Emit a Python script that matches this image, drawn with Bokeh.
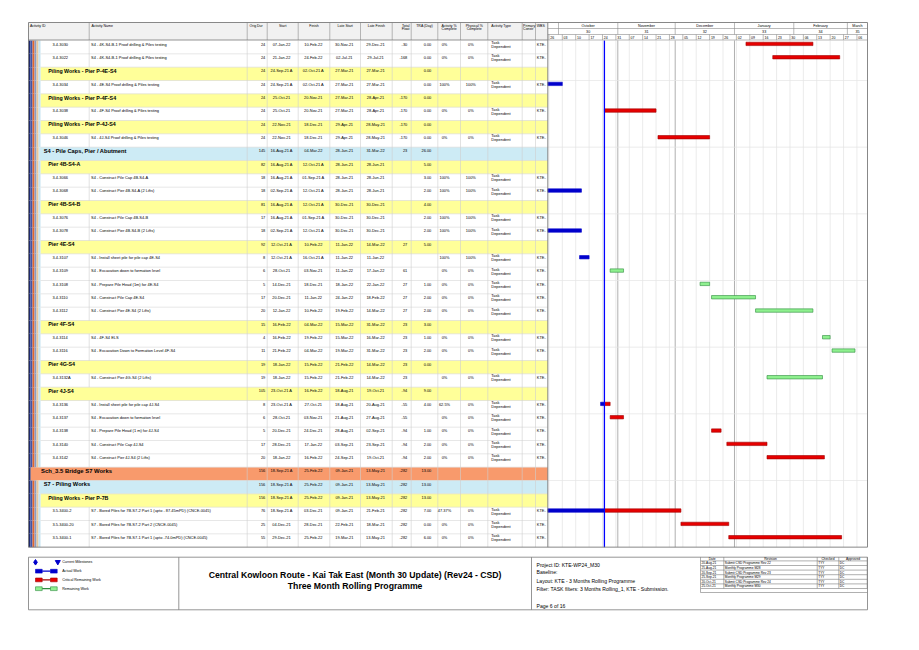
import datetime as dt
from bokeh.plotting import figure
from bokeh.models import Range1d
from bokeh.core.properties import value
from bokeh.embed import file_html
from bokeh.resources import INLINE

# ---------------- data ----------------
row_kind = ["task", "task", "wbs3", "task", "wbs3", "task", "wbs3", "task", "wbs2", "wbs3",
            "task", "task", "wbs3", "task", "task", "wbs3", "task", "task", "task", "task",
            "task", "wbs3", "task", "task", "wbs3", "task", "wbs3", "task", "task", "task",
            "task", "task", "wbs1", "wbs2", "wbs3", "task", "task", "task"]

act_id = ["3.4-3030", "3.4-3022", "", "3.4-3034", "", "3.4-3038", "", "3.4-3046", "", "",
          "3.4-3066", "3.4-3068", "", "3.4-3076", "3.4-3078", "", "3.4-3107", "3.4-3109", "3.4-3108", "3.4-3110",
          "3.4-3112", "", "3.4-3114", "3.4-3116", "", "3.4-3132A", "", "3.4-3136", "3.4-3137", "3.4-3138",
          "3.4-3140", "3.4-3142", "", "", "", "3.5-3400-2", "3.5-3400-20", "3.5-3400-1"]

act_name = [
    "S4 - 4K-S4-B-1 Proof drilling & Piles testing",
    "S4 - 4K-S4-B-1 Proof drilling & Piles testing",
    "Piling Works - Pier P-4E-S4",
    "S4 - 4E-S4  Proof drilling & Piles testing",
    "Piling Works - Pier P-4F-S4",
    "S4 - 4F-S4 Proof drilling & Piles testing",
    "Piling Works - Pier P-4J-S4",
    "S4 - 4J-S4 Proof drilling & Piles testing",
    "S4 - Pile Caps, Pier / Abutment",
    "Pier 4B-S4-A",
    "S4 - Construct Pile Cap 4B-S4-A",
    "S4 - Construct Pier 4B-S4-A (2 Lifts)",
    "Pier 4B-S4-B",
    "S4 - Construct Pile Cap 4B-S4-B",
    "S4 - Construct Pier 4B-S4-B (2 Lifts)",
    "Pier 4E-S4",
    "S4 - Install sheet pile for pile cap 4E-S4",
    "S4 - Excavation down to formation level",
    "S4 - Prepare Pile Head (1m) for 4E-S4",
    "S4 - Construct Pile Cap 4E-S4",
    "S4 - Construct Pier 4E-S4 (2 Lifts)",
    "Pier 4F-S4",
    "S4 - 4F-S4 ELS",
    "S4 - Excavation Down to Formation Level 4F-S4",
    "Pier 4G-S4",
    "S4 - Construct Pier 4G-S4 (2 Lifts)",
    "Pier 4J-S4",
    "S4 - Install sheet pile for pile cap 4J-S4",
    "S4 - Excavation down to formation level",
    "S4 - Prepare Pile Head (1 m) for 4J-S4",
    "S4 - Construct Pile Cap 4J-S4",
    "S4 - Construct Pier 4J-S4 (2 Lifts)",
    "Sch_3.5 Bridge S7 Works",
    "S7 - Piling Works",
    "Piling Works - Pier P-7B",
    "S7 - Bored Piles for 7B-S7-2 Part 1 (upto - 87.45mPD) (CNCE-0045)",
    "S7 - Bored Piles for 7B-S7-2 Part 2 (CNCE-0045)",
    "S7 - Bored Piles for 7B-S7-1 Part 1 (upto -74.0mPD) (CNCE-0045)",
]

orig_dur = ["24", "24", "24", "24", "24", "24", "24", "24", "145", "82",
            "18", "18", "81", "17", "18", "92", "8", "6", "5", "17",
            "20", "15", "4", "11", "19", "19", "105", "8", "6", "5",
            "17", "20", "156", "156", "156", "76", "25", "55"]

start = ["07-Jan-22", "21-Jan-22", "24-Sep-21 A", "24-Sep-21 A", "25-Oct-21", "25-Oct-21", "22-Nov-21", "22-Nov-21", "16-Aug-21 A", "16-Aug-21 A",
         "16-Aug-21 A", "02-Sep-21 A", "16-Aug-21 A", "16-Aug-21 A", "02-Sep-21 A", "12-Oct-21 A", "12-Oct-21 A", "28-Oct-21", "14-Dec-21", "20-Dec-21",
         "12-Jan-22", "16-Feb-22", "16-Feb-22", "21-Feb-22", "18-Jan-22", "18-Jan-22", "23-Oct-21 A", "23-Oct-21 A", "28-Oct-21", "20-Dec-21",
         "28-Dec-21", "18-Jan-22", "18-Sep-21 A", "18-Sep-21 A", "18-Sep-21 A", "18-Sep-21 A", "04-Dec-21", "29-Dec-21"]

finish = ["10-Feb-22", "24-Feb-22", "02-Oct-21 A", "02-Oct-21 A", "20-Nov-21", "20-Nov-21", "18-Dec-21", "18-Dec-21", "04-Mar-22", "12-Oct-21 A",
          "01-Sep-21 A", "12-Oct-21 A", "12-Oct-21 A", "01-Sep-21 A", "12-Oct-21 A", "10-Feb-22", "16-Oct-21 A", "03-Nov-21", "18-Dec-21", "11-Jan-22",
          "10-Feb-22", "04-Mar-22", "19-Feb-22", "04-Mar-22", "15-Feb-22", "15-Feb-22", "16-Feb-22", "27-Oct-21", "03-Nov-21", "24-Dec-21",
          "17-Jan-22", "16-Feb-22", "25-Feb-22", "25-Feb-22", "25-Feb-22", "03-Dec-21", "28-Dec-21", "25-Feb-22"]

late_start = ["30-Nov-21", "02-Jul-21", "27-Mar-21", "27-Mar-21", "27-Mar-21", "27-Mar-21", "29-Apr-21", "29-Apr-21", "28-Jun-21", "28-Jun-21",
              "28-Jun-21", "28-Jun-21", "30-Dec-21", "30-Dec-21", "30-Dec-21", "11-Jan-22", "11-Jan-22", "11-Jan-22", "18-Jan-22", "24-Jan-22",
              "19-Feb-22", "15-Mar-22", "15-Mar-22", "19-Mar-22", "21-Feb-22", "21-Feb-22", "18-Aug-21", "18-Aug-21", "21-Aug-21", "28-Aug-21",
              "03-Sep-21", "24-Sep-21", "09-Jan-21", "09-Jan-21", "09-Jan-21", "09-Jan-21", "22-Feb-21", "19-Mar-21"]

late_finish = ["29-Dec-21", "29-Jul-21", "27-Mar-21", "27-Mar-21", "28-Apr-21", "28-Apr-21", "28-May-21", "28-May-21", "31-Mar-22", "28-Jun-21",
               "28-Jun-21", "28-Jun-21", "30-Dec-21", "30-Dec-21", "30-Dec-21", "14-Mar-22", "11-Jan-22", "17-Jan-22", "22-Jan-22", "18-Feb-22",
               "14-Mar-22", "31-Mar-22", "16-Mar-22", "31-Mar-22", "14-Mar-22", "14-Mar-22", "19-Oct-21", "20-Aug-21", "27-Aug-21", "02-Sep-21",
               "23-Sep-21", "19-Oct-21", "13-May-21", "13-May-21", "13-May-21", "21-Feb-21", "18-Mar-21", "13-May-21"]

total_float = ["-30", "-168", "", "", "-170", "-170", "-170", "-170", "23", "",
               "", "", "", "", "", "27", "", "61", "27", "27",
               "27", "23", "23", "23", "23", "23", "-94", "-55", "-55", "-94",
               "-94", "-94", "-282", "-282", "-282", "-282", "-282", "-282"]

tra_day = ["0.00", "0.00", "0.00", "0.00", "0.00", "0.00", "0.00", "0.00", "26.00", "5.00",
           "3.00", "2.00", "4.00", "2.00", "2.00", "5.00", "", "", "1.00", "2.00",
           "2.00", "3.00", "1.00", "2.00", "0.00", "", "9.00", "4.00", "", "1.00",
           "2.00", "2.00", "13.00", "13.00", "13.00", "7.00", "0.00", "6.00"]

act_pct = ["0%", "0%", "", "100%", "", "0%", "", "0%", "", "",
           "100%", "100%", "", "100%", "100%", "", "100%", "0%", "0%", "0%",
           "0%", "", "0%", "0%", "", "0%", "", "62.5%", "0%", "0%",
           "0%", "0%", "", "", "", "47.37%", "0%", "0%"]

phys_pct = ["0%", "0%", "", "100%", "", "0%", "", "0%", "", "",
            "100%", "100%", "", "100%", "100%", "", "100%", "0%", "0%", "0%",
            "0%", "", "0%", "0%", "", "0%", "", "0%", "0%", "0%",
            "0%", "0%", "", "", "", "0%", "0%", "0%"]

data_date = "25-Oct-21"

month_labels = ["October", "November", "December", "January", "February", "March"]
month_numbers = ["30", "31", "32", "33", "34", "35"]
month_starts = ["01-Oct-21", "01-Nov-21", "01-Dec-21", "01-Jan-22", "01-Feb-22", "01-Mar-22", "01-Apr-22"]
major_lines = ["01-Nov-21", "01-Dec-21", "01-Jan-22"]
week_starts = ["26-Sep-21", "03-Oct-21", "10-Oct-21", "17-Oct-21", "24-Oct-21", "31-Oct-21", "07-Nov-21", "14-Nov-21",
               "21-Nov-21", "28-Nov-21", "05-Dec-21", "12-Dec-21", "19-Dec-21", "26-Dec-21", "02-Jan-22", "09-Jan-22",
               "16-Jan-22", "23-Jan-22", "30-Jan-22", "06-Feb-22", "13-Feb-22", "20-Feb-22", "27-Feb-22", "06-Mar-22"]
week_labels = ["26", "03", "10", "17", "24", "31", "07", "14", "21", "28", "05", "12",
               "19", "26", "02", "09", "16", "23", "30", "06", "13", "20", "27", "06"]

header_labels = [["Activity ID"], ["Activity Name"], ["Orig Dur"], ["Start"], ["Finish"], ["Late Start"],
                 ["Late Finish"], ["Total", "Float"], ["TRA (Day)"], ["Activity %", "Complete"],
                 ["Physical %", "Complete"], ["Activity Type"], ["Primary", "Constr"], ["WBS"]]

rev_dates = ["20-Aug-21", "25-Aug-21", "20-Sep-21", "25-Sep-21", "20-Oct-21", "25-Oct-21"]
rev_text = ["Submit CSD Programme Rev 22", "Monthly Programme M28", "Submit CSD Programme Rev 23",
            "Monthly Programme M29", "Submit CSD Programme Rev 24", "Monthly Programme M30"]
rev_checked = ["TYY", "TYY", "TYY", "TYY", "TYY", "TYY"]
rev_approved = ["DC", "DC", "DC", "DC", "DC", "DC"]
rev_headers = ["Date", "Revision", "Checked", "Approved"]

legend_labels = ["Current Milestones", "Actual Work", "Critical Remaining Work", "Remaining Work"]

title_lines = ["Central Kowloon Route - Kai Tak East (Month 30 Update) (Rev24 - CSD)",
               "Three Month Rolling Programme"]
info_lines = ["Project ID: KTE-WP24_M30", "Baseline:", "Layout: KTE - 3 Months Rolling Programme",
              "Filter: TASK filters: 3 Months Rolling_1, KTE - Submission.", "Page 6 of 16"]

# ---------------- layout constants ----------------
W, H = 903, 634
FONT = value("Liberation Sans")
ORIGIN = dt.datetime(2021, 11, 1)
ORIGIN_X = 617.3
PPD = 1.913
ROW_TOP = 40.0
ROW_H = 13.333
GL, GR = 547.3, 867.0
TL = 28.0
HDR_TOP = 22.0
NROWS = len(row_kind)
TBL_BOT = ROW_TOP + NROWS * ROW_H
col_edges = [28.0, 88.7, 246.7, 266.7, 297.7, 329.3, 360.0, 391.7, 410.7, 437.3, 460.0, 487.3, 521.7, 535.0, 547.3]

BLUE = "#0000CC"
RED = "#E60000"
GREEN = "#8FF08F"
GREEN_LINE = "#2E8B3E"
band_color = {"wbs1": "#F89A6C", "wbs2": "#CDEBF5", "wbs3": "#FFFF99"}
band_left = {"wbs1": 30.0, "wbs2": 38.0, "wbs3": 40.0}
stripe_colors = ["#1F2A6E", "#4055A8", "#E0652E", "#8A9AC0", "#E8C79C", "#C5E4F2"]
stripe_count = {"task": 6, "wbs3": 6, "wbs2": 5, "wbs1": 1}


def pdate(s):
    return dt.datetime.strptime(s.replace(" A", "").strip(), "%d-%b-%y")


def ms(d):
    return (d - dt.datetime(1970, 1, 1)).total_seconds() * 1000.0


def date_at(px):
    return ORIGIN + dt.timedelta(days=(px - ORIGIN_X) / PPD)


def row_at(px):
    return (px - ROW_TOP) / ROW_H


p = figure(width=W, height=H, x_range=Range1d(0, W), y_range=Range1d(H, 0),
           output_backend="svg", toolbar_location=None, min_border=0,
           x_axis_location=None, y_axis_location=None)
p.grid.visible = False
p.outline_line_color = None
p.background_fill_color = "white"
p.border_fill_color = "white"
p.extra_x_ranges = {"date": Range1d(start=ms(date_at(0)), end=ms(date_at(W)))}
p.extra_y_ranges = {"row": Range1d(start=row_at(H), end=row_at(0))}

VS = date_at(GL)
VE = date_at(GR)
DD = pdate(data_date)

# ---------------- table backgrounds ----------------
p.quad(left=[TL], right=[GL], top=[HDR_TOP], bottom=[39.5], fill_color="#F1F1F1", line_color=None)

bl, br, bt, bb, bc = [], [], [], [], []
for i, k in enumerate(row_kind):
    if k in band_color:
        bl.append(band_left[k]); br.append(GL); bt.append(i); bb.append(i + 1); bc.append(band_color[k])
p.quad(left=bl, right=br, top=bt, bottom=bb, fill_color=bc, line_color=None, y_range_name="row")

sl, sr, st, sb, sc = [], [], [], [], []
for i, k in enumerate(row_kind):
    for s in range(stripe_count[k]):
        sl.append(TL + 2 * s); sr.append(TL + 2 * s + 2); st.append(i); sb.append(i + 1); sc.append(stripe_colors[s])
p.quad(left=sl, right=sr, top=st, bottom=sb, fill_color=sc, line_color=None, y_range_name="row")

# row separators
hx0, hx1, hy = [], [], []
for i in range(1, NROWS):
    hx0.append(40.0); hx1.append(GL); hy.append(i)
p.segment(x0=hx0, x1=hx1, y0=hy, y1=hy, line_color="#D6D6D6", line_width=0.6, y_range_name="row")

# vertical column lines
vx, vy0, vy1 = [], [], []
for e in col_edges[2:-1]:
    vx.append(e); vy0.append(0); vy1.append(NROWS)
for i, k in enumerate(row_kind):
    if k == "task":
        vx.append(col_edges[1]); vy0.append(i); vy1.append(i + 1)
p.segment(x0=vx, x1=vx, y0=vy0, y1=vy1, line_color="#CFCFCF", line_width=0.6, y_range_name="row")

# header column lines
p.segment(x0=col_edges[1:-1], x1=col_edges[1:-1], y0=[HDR_TOP] * (len(col_edges) - 2),
          y1=[39.5] * (len(col_edges) - 2), line_color="#9A9A9A", line_width=0.7)

# ---------------- table text ----------------
def txt(xs, ys, ts, size, align="left", style="normal", yr="row", color="black", xr="default", xoff=0):
    kw = dict(x=xs, y=ys, text=ts, text_font=FONT, text_font_size=size, text_align=align,
              text_baseline="middle", text_font_style=style, text_color=color, x_offset=xoff)
    if yr != "default":
        kw["y_range_name"] = yr
    if xr != "default":
        kw["x_range_name"] = xr
    p.text(**kw)

off1 = 3.8 / ROW_H
offa = 1.9 / ROW_H
offb = 5.9 / ROW_H
CS = "3.95px"

cols = {
    "dur": (264.8, "right", orig_dur),
    "start": (281.0, "center", start),
    "finish": (312.8, "center", finish),
    "ls": (343.8, "center", late_start),
    "lf": (375.0, "center", late_finish),
    "tf": (406.8, "right", total_float),
    "tra": (430.8, "right", tra_day),
    "ap": (444.0, "center", act_pct),
    "pp": (470.3, "center", phys_pct),
}
for key, (cx, al, arr) in cols.items():
    xs, ys, ts = [], [], []
    for i, v in enumerate(arr):
        if v:
            xs.append(cx); ys.append(i + off1); ts.append(v)
    txt(xs, ys, ts, CS, align=al)

xs, ys, ts = [], [], []
for i, k in enumerate(row_kind):
    if k == "task":
        xs.append(52.0); ys.append(i + off1); ts.append(act_id[i])
        xs.append(90.5); ys.append(i + off1); ts.append(act_name[i])
        xs.append(536.3); ys.append(i + off1); ts.append("KTE-")
txt(xs, ys, ts, CS)

xs, ys, ts = [], [], []
for i, k in enumerate(row_kind):
    if k == "task":
        xs += [490.8, 490.8]; ys += [i + offa, i + offb]; ts += ["Task", "Dependent"]
txt(xs, ys, ts, CS)

group_style = {"wbs3": (47.7, "5.3px"), "wbs2": (43.3, "5.7px"), "wbs1": (40.5, "5.9px")}
for gk, (gx, gs) in group_style.items():
    xs, ys, ts = [], [], []
    for i, k in enumerate(row_kind):
        if k == gk:
            xs.append(gx); ys.append(i + off1); ts.append(act_name[i])
    txt(xs, ys, ts, gs, style="bold")

# header labels
hx = [29.5, 91.0, 249.0, 282.2, 313.5, 344.7, 375.8, 409.0, 424.0, 448.6, 473.7, 490.8, 522.6, 536.3]
ha = ["left", "left", "left", "center", "center", "center", "center", "right", "center", "center",
      "center", "left", "left", "left"]
for j, lines in enumerate(header_labels):
    for li, line in enumerate(lines):
        txt([hx[j]], [25.2 + 3.6 * li], [line], "3.5px", align=ha[j], yr="default")

# ---------------- gantt body ----------------
wk = [ms(pdate(w)) for w in week_starts if VS < pdate(w) < VE]
p.segment(x0=wk, x1=wk, y0=[0] * len(wk), y1=[NROWS] * len(wk), line_color="#E2E2E2", line_width=0.7,
          x_range_name="date", y_range_name="row")
mj = [ms(pdate(m)) for m in major_lines]
p.segment(x0=mj, x1=mj, y0=[0] * len(mj), y1=[NROWS] * len(mj), line_color="#9C9C9C", line_width=0.8,
          x_range_name="date", y_range_name="row")
hr = [r for r in range(3, NROWS, 5)]
p.segment(x0=[GL] * len(hr), x1=[GR] * len(hr), y0=hr, y1=hr, line_color="#E4E4E4", line_width=0.7,
          y_range_name="row")

segs = {"blue": ([], [], []), "red": ([], [], []), "green": ([], [], [])}
for i, k in enumerate(row_kind):
    if k != "task":
        continue
    s = pdate(start[i])
    f = pdate(finish[i]) + dt.timedelta(days=1)
    rem = "red" if (total_float[i] and float(total_float[i]) <= 0) else "green"
    parts = []
    if finish[i].endswith(" A"):
        parts.append(("blue", s, f))
    elif start[i].endswith(" A"):
        parts.append(("blue", s, DD))
        parts.append((rem, DD, f))
    else:
        parts.append((rem, s, f))
    for c, a, b in parts:
        a2, b2 = max(a, VS), min(b, VE)
        if b2 > a2:
            segs[c][0].append(ms(a2)); segs[c][1].append(ms(b2)); segs[c][2].append(i)

bar_c = 3.4 / ROW_H
bar_h = 1.7 / ROW_H
for c, fill, line in [("blue", BLUE, BLUE), ("red", RED, "#A00000"), ("green", GREEN, GREEN_LINE)]:
    L, R, Y = segs[c]
    p.quad(left=L, right=R, top=[y + bar_c - bar_h for y in Y], bottom=[y + bar_c + bar_h for y in Y],
           fill_color=fill, line_color=line, line_width=0.6, x_range_name="date", y_range_name="row")

p.segment(x0=[ms(DD)], x1=[ms(DD)], y0=[0], y1=[NROWS], line_color="#0000FF", line_width=1.3,
          x_range_name="date", y_range_name="row")

# ---------------- timescale header ----------------
p.segment(x0=[GL] * 3, x1=[GR] * 3, y0=[28, 34, 39.5], y1=[28, 34, 39.5], line_color="#8C8C8C", line_width=0.6)
ms_in = [ms(pdate(m)) for m in month_starts if VS < pdate(m) < VE]
p.segment(x0=ms_in, x1=ms_in, y0=[HDR_TOP] * len(ms_in), y1=[34] * len(ms_in), line_color="#8C8C8C",
          line_width=0.6, x_range_name="date")
p.segment(x0=wk, x1=wk, y0=[34] * len(wk), y1=[39.5] * len(wk), line_color="#8C8C8C",
          line_width=0.6, x_range_name="date")
mx, my, mt, nx, ny, nt = [], [], [], [], [], []
for j, lab in enumerate(month_labels):
    a = max(pdate(month_starts[j]), VS)
    b = min(pdate(month_starts[j + 1]), VE)
    mid = ms(a) + (ms(b) - ms(a)) / 2
    mx.append(mid); my.append(25.0); mt.append(lab)
    nx.append(mid); ny.append(31.0); nt.append(month_numbers[j])
txt(mx, my, mt, "3.7px", align="center", yr="default", xr="date")
txt(nx, ny, nt, "3.7px", align="center", yr="default", xr="date")
wx = [ms(max(pdate(w), VS)) for w in week_starts]
txt(wx, [36.9] * len(wx), week_labels, "3.5px", align="left", yr="default", xr="date", xoff=1.3)

# ---------------- borders ----------------
p.segment(x0=[TL, TL, TL, GR, GL], x1=[GR, GR, TL, GR, GL], y0=[HDR_TOP, TBL_BOT, HDR_TOP, HDR_TOP, HDR_TOP],
          y1=[HDR_TOP, TBL_BOT, TBL_BOT, TBL_BOT, TBL_BOT], line_color="#7A7A7A", line_width=0.9)
p.segment(x0=[TL], x1=[GL], y0=[39.5], y1=[39.5], line_color="#7A7A7A", line_width=0.8)

# ---------------- footer ----------------
FT, FB = 556.7, 609.3
p.segment(x0=[TL, TL, TL, GR, 178.3, 531.0], x1=[GR, GR, TL, GR, 178.3, 531.0],
          y0=[FT, FB, FT, FT, FT, FT], y1=[FT, FB, FB, FB, FB, FB], line_color="#7A7A7A", line_width=0.8)

# legend
ly = [561.8, 570.7, 579.4, 588.2]
p.scatter(x=[35.0], y=[ly[0]], marker="diamond", size=5.5, fill_color=BLUE, line_color=BLUE)
p.scatter(x=[57.3], y=[ly[0] - 0.3], marker="inverted_triangle", size=5, fill_color=BLUE, line_color=BLUE)
for yy, fill, line in [(ly[1], BLUE, BLUE), (ly[2], RED, "#A00000"), (ly[3], GREEN, GREEN_LINE)]:
    p.quad(left=[35.0, 50.0], right=[41.7, 56.7], top=[yy - 1.9] * 2, bottom=[yy + 1.9] * 2,
           fill_color=fill, line_color=line, line_width=0.6)
    p.segment(x0=[41.7], x1=[50.0], y0=[yy], y1=[yy], line_color=line, line_width=1.2)
txt([61.7] * 4, ly, legend_labels, "3.6px", yr="default")

# title
txt([354.6, 354.6], [574.0, 585.6], title_lines, "8.7px", align="center", style="bold", yr="default")

# project info
txt([536.0] * 5, [564.0, 571.2, 580.4, 588.0, 605.4], info_lines, "5.1px", yr="default")

# revision table
rc = [700.0, 723.3, 816.7, 838.3, 866.7]
rt = 556.7
rrow = [560.4 + 4.6 * k for k in range(7)]
p.segment(x0=rc, x1=rc, y0=[rt] * 5, y1=[rrow[-1]] * 5, line_color="#7A7A7A", line_width=0.6)
p.segment(x0=[rc[0]] * 7, x1=[rc[-1]] * 7, y0=rrow, y1=rrow, line_color="#7A7A7A", line_width=0.6)
p.segment(x0=[rc[0], rc[0]], x1=[rc[-1], rc[0]], y0=[592.0, rrow[-1]], y1=[592.0, 592.0],
          line_color="#7A7A7A", line_width=0.6)
txt([(rc[j] + rc[j + 1]) / 2 for j in range(4)], [558.6] * 4, rev_headers, "3.3px", align="center", yr="default")
ry = [rrow[k] + 2.3 for k in range(6)]
txt([rc[0] + 1.0] * 6, ry, rev_dates, "3.2px", yr="default")
txt([rc[1] + 1.0] * 6, ry, rev_text, "3.2px", yr="default")
txt([rc[2] + 1.0] * 6, ry, rev_checked, "3.2px", yr="default")
txt([rc[3] + 1.0] * 6, ry, rev_approved, "3.2px", yr="default")

open("out.html", "w").write(file_html(p, INLINE))
